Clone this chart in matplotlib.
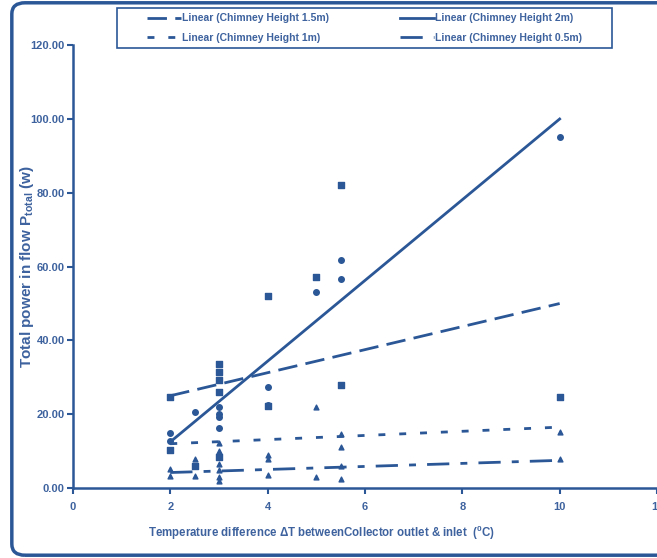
import matplotlib
matplotlib.use("Agg")
import matplotlib.pyplot as plt
from matplotlib.patches import FancyBboxPatch, Rectangle

BLUE = "#2B5797"
TEXT = "#3D629E"

plt.rcParams["font.family"] = ["Liberation Sans", "DejaVu Sans"]
plt.rcParams["font.weight"] = "bold"
plt.rcParams["axes.labelweight"] = "bold"
plt.rcParams["mathtext.default"] = "regular"

# measured points (Delta T, P_total) per chimney height
x_2m = [2, 2, 2.5, 3, 3, 3, 3, 4, 4, 5, 5.5, 5.5, 10]
y_2m = [14.9, 12.7, 20.6, 22.0, 20.0, 19.3, 16.3, 27.4, 22.5, 53.1, 61.8, 56.6, 95.1]

x_15m = [2, 2, 2.5, 3, 3, 3, 3, 3, 4, 4, 5, 5.5, 5.5, 10]
y_15m = [24.7, 10.3, 6.0, 33.6, 31.4, 29.3, 26.0, 8.4, 52.0, 22.2, 57.2, 82.1, 27.9, 24.7]

x_1m = [2, 2.5, 3, 3, 3, 4, 4, 5, 5.5, 5.5, 10]
y_1m = [5.1, 8.0, 12.2, 10.0, 6.5, 9.0, 8.0, 22.0, 14.6, 11.1, 15.2]

x_05m = [2, 2.5, 3, 3, 3, 4, 5, 5.5, 5.5, 10]
y_05m = [3.2, 3.2, 5.0, 3.0, 1.9, 3.5, 3.0, 6.0, 2.4, 7.9]

# linear trend lines, read at the ends (Delta T = 2 and 10)
trend_x = [2, 10]
trend_2m = [12.5, 100.0]
trend_15m = [25.0, 50.0]
trend_1m = [12.0, 16.5]
trend_05m = [4.2, 7.5]

xticks = [0, 2, 4, 6, 8, 10, 12]
yticks = [0, 20, 40, 60, 80, 100, 120]

fig = plt.figure(figsize=(6.57, 5.58), dpi=100)
ax = fig.add_axes([0.111, 0.1254, 0.889, 0.7936])

ax.scatter(x_2m, y_2m, marker="o", s=16, color=BLUE, zorder=3)
ax.scatter(x_15m, y_15m, marker="s", s=18, color=BLUE, zorder=3)
ax.scatter(x_1m, y_1m, marker="^", s=12, color=BLUE, zorder=3)
ax.scatter(x_05m, y_05m, marker="^", s=12, color=BLUE, zorder=3)

l15, = ax.plot(trend_x, trend_15m, color=BLUE, lw=2, linestyle=(0, (7, 3)))
l2, = ax.plot(trend_x, trend_2m, color=BLUE, lw=2, linestyle="-")
l1, = ax.plot(trend_x, trend_1m, color=BLUE, lw=2, linestyle=(0, (2.5, 5)))
l05, = ax.plot(trend_x, trend_05m, color=BLUE, lw=2, linestyle=(0, (8, 4, 2.5, 4)))

ax.set_xlim(0, 12)
ax.set_ylim(0, 120)
ax.set_xticks(xticks)
ax.set_yticks(yticks)
ax.set_xticklabels([str(t) for t in xticks])
ax.set_yticklabels([f"{t:.2f}" for t in yticks])
ax.tick_params(colors=BLUE, labelcolor=TEXT, labelsize=8, length=4, width=1.5, direction="out")
ax.tick_params(axis="x", pad=6)
ax.tick_params(axis="y", pad=2)
for side in ("top", "right"):
    ax.spines[side].set_visible(False)
for side in ("left", "bottom"):
    ax.spines[side].set_color(BLUE)
    ax.spines[side].set_linewidth(1.8)

ax.set_xlabel("Temperature difference \u0394T betweenCollector outlet & inlet  ($^{0}$C)",
              color=TEXT, fontsize=8.3)
ax.set_ylabel("Total power in flow P$_{total}$ (w)", color=TEXT, fontsize=11)
ax.xaxis.set_label_coords(0.426, -0.08)
ax.yaxis.set_label_coords(-0.063, 0.5)

# legend: entries centred in the two halves of a framed box at the top
fig.legend([l15, l1, l2, l05],
           ["Linear (Chimney Height 1.5m)", "Linear (Chimney Height 1m)",
            "Linear (Chimney Height 2m)", "Linear (Chimney Height 0.5m)"],
           ncol=2, loc="center", bbox_to_anchor=(0.5548, 0.9498),
           frameon=False, labelcolor=TEXT, fontsize=7.5, handlelength=3.3,
           handletextpad=0.1, borderpad=0, labelspacing=0.9, columnspacing=6.8)
fig.patches.append(Rectangle((117 / 657, 1 - 48 / 558), 495 / 657, 40 / 558,
                             transform=fig.transFigure, facecolor="none",
                             edgecolor=BLUE, lw=1.2))

border = FancyBboxPatch((0.018, 0.005), 1.1, 0.99, boxstyle="round,pad=0,rounding_size=0.02",
                        transform=fig.transFigure, facecolor="none", edgecolor=BLUE,
                        lw=2.5, clip_on=False)
fig.patches.append(border)

fig.savefig("out.png", dpi=100)
